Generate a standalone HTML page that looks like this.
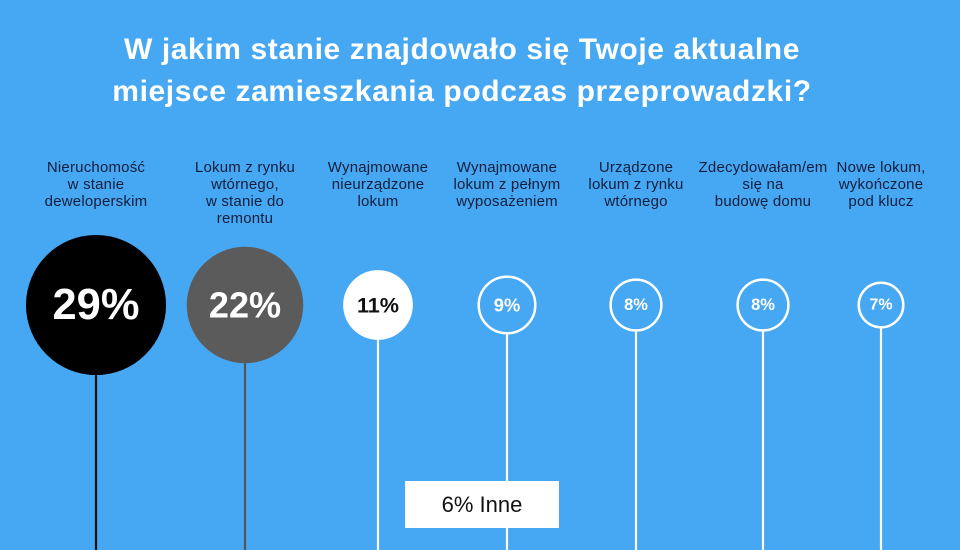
<!DOCTYPE html>
<html><head><meta charset="utf-8"><style>
body{margin:0;width:960px;height:550px;background:#46a7f2;overflow:hidden;font-family:"Liberation Sans",sans-serif;position:relative}
#title{position:absolute;left:-18px;top:29px;width:960px;text-align:center;color:#fff;font-weight:bold;font-size:30px;letter-spacing:0.6px;line-height:42px}
.lbl{position:absolute;top:159px;width:150px;text-align:center;color:#141e3c;font-size:15px;line-height:17px;letter-spacing:0.2px}
#other{position:absolute;left:405px;top:481px;width:154px;height:47px;background:#fff;color:#111;font-size:22px;line-height:47px;text-align:center}
svg{position:absolute;left:0;top:0}
</style></head><body>
<div id="title">W jakim stanie znajdowało się Twoje aktualne<br>miejsce zamieszkania podczas przeprowadzki?</div>
<svg id="chart" width="960" height="550"></svg>
<div id="labels"></div>
<div id="other">6% Inne</div>
<script>
const categories=["Nieruchomość<br>w stanie<br>deweloperskim","Lokum z rynku<br>wtórnego,<br>w stanie do<br>remontu","Wynajmowane<br>nieurządzone<br>lokum","Wynajmowane<br>lokum z pełnym<br>wyposażeniem","Urządzone<br>lokum z rynku<br>wtórnego","Zdecydowałam/em<br>się na<br>budowę domu","Nowe lokum,<br>wykończone<br>pod klucz"];
const values=[29,22,11,9,8,8,7];
const xs=[96,245,378,507,636,763,881];
const fills=["#000","#5b5b5b","#fff","none","none","none","none"];
const textColors=["#fff","#fff","#111","#fff","#fff","#fff","#fff"];
const lineColors=["#111","#555","#fff","#fff","#fff","#fff","#fff"];
const svg=document.getElementById('chart');
const NS="http://www.w3.org/2000/svg";
function rScale(v){return 17.0*Math.sqrt(v)-21.5;}
const cy=305;
values.forEach((v,i)=>{
 const r=rScale(v);
 const ln=document.createElementNS(NS,'line');
 
 
 ln.setAttribute('x1',xs[i]);ln.setAttribute('x2',xs[i]);ln.setAttribute('y1',cy+r);ln.setAttribute('y2',550);
 ln.setAttribute('stroke',lineColors[i]);ln.setAttribute('stroke-width',2.2);svg.appendChild(ln);
 const c=document.createElementNS(NS,'circle');
 
 
 c.setAttribute('cx',xs[i]);c.setAttribute('cy',cy);c.setAttribute('r',fills[i]==="none"?r-1.2:r);
 c.setAttribute('fill',fills[i]);
 if(fills[i]==="none"){c.setAttribute('stroke','#fff');c.setAttribute('stroke-width',2.5);}
 svg.appendChild(c);
 const t=document.createElementNS(NS,'text');
 
 
 t.setAttribute('x',xs[i]);t.setAttribute('y',cy);t.setAttribute('text-anchor','middle');t.setAttribute('dominant-baseline','central');
 t.setAttribute('fill',textColors[i]);t.setAttribute('font-weight','bold');
 t.setAttribute('font-family','Liberation Sans, sans-serif');
 t.setAttribute('font-size',Math.max(16,r*0.62));
 t.textContent=v+'%';svg.appendChild(t);
 const d=document.createElement('div');
 d.className='lbl';
 
 
 d.style.left=(xs[i]-75)+'px';
 d.innerHTML=categories[i];
 document.getElementById('labels').appendChild(d);
});
</script>
</body></html>
